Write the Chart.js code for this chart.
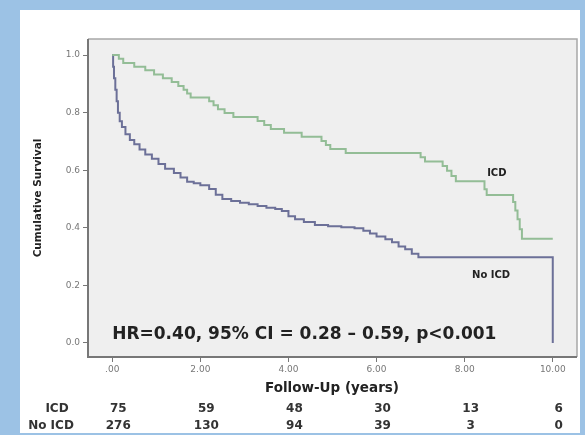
<!DOCTYPE html>
<html><head><meta charset="utf-8">
<script src="https://cdn.jsdelivr.net/npm/chart.js@4/dist/chart.umd.min.js"></script>
<style>
html,body{margin:0;padding:0;width:585px;height:435px;overflow:hidden;background:#9cc2e5;}
#panel{position:absolute;left:20px;top:10px;width:560px;height:423px;background:#ffffff;}
#wrap{position:absolute;left:0;top:0;width:585px;height:435px;}
</style></head><body>
<div id="panel"></div>
<div id="wrap"><canvas id="c" width="585" height="435"></canvas></div>
<script>
// ---- data ----
const icdTimes    = [0, 0.15, 0.25, 0.5, 0.75, 0.95, 1.15, 1.35, 1.5, 1.62, 1.7, 1.78, 2.2, 2.3, 2.4, 2.55, 2.75, 3.3, 3.45, 3.6, 3.9, 4.3, 4.75, 4.85, 4.95, 5.3, 7.0, 7.1, 7.5, 7.6, 7.7, 7.8, 8.45, 8.5, 9.1, 9.15, 9.2, 9.25, 9.3, 10.0];
const icdSurvival = [1.0, 0.987, 0.973, 0.96, 0.947, 0.933, 0.92, 0.907, 0.893, 0.88, 0.867, 0.853, 0.84, 0.826, 0.812, 0.799, 0.785, 0.771, 0.757, 0.743, 0.73, 0.716, 0.702, 0.688, 0.674, 0.66, 0.645, 0.63, 0.615, 0.598, 0.58, 0.562, 0.534, 0.514, 0.49, 0.46, 0.43, 0.395, 0.362, 0.362];
const noIcdTimes    = [0, 0.02, 0.04, 0.07, 0.1, 0.13, 0.17, 0.22, 0.3, 0.4, 0.5, 0.62, 0.75, 0.9, 1.05, 1.2, 1.4, 1.55, 1.7, 1.85, 2.0, 2.2, 2.35, 2.5, 2.7, 2.9, 3.1, 3.3, 3.5, 3.7, 3.85, 4.0, 4.15, 4.35, 4.6, 4.9, 5.2, 5.5, 5.7, 5.85, 6.0, 6.2, 6.35, 6.5, 6.65, 6.8, 6.95, 10.0];
const noIcdSurvival = [1.0, 0.96, 0.92, 0.88, 0.84, 0.80, 0.77, 0.75, 0.725, 0.705, 0.69, 0.672, 0.655, 0.64, 0.622, 0.605, 0.59, 0.575, 0.56, 0.555, 0.548, 0.535, 0.515, 0.5, 0.493, 0.487, 0.482, 0.476, 0.47, 0.465, 0.458, 0.44, 0.43, 0.42, 0.41, 0.405, 0.402, 0.398, 0.39, 0.38, 0.37, 0.36, 0.35, 0.335, 0.325, 0.31, 0.298, 0.0];
const seriesLabels = ['ICD', 'No ICD'];
const xTickValues = [0, 2, 4, 6, 8, 10];
const xTickLabels = ['.00', '2.00', '4.00', '6.00', '8.00', '10.00'];
const yTickValues = [0, 0.2, 0.4, 0.6, 0.8, 1.0];
const yTickLabels = ['0.0', '0.2', '0.4', '0.6', '0.8', '1.0'];
const riskTimes = [0, 2, 4, 6, 8, 10];
const riskICD   = [75, 59, 48, 30, 13, 6];
const riskNoICD = [276, 130, 94, 39, 3, 0];
const hrText = 'HR=0.40, 95% CI = 0.28 \u2013 0.59, p<0.001';
const xTitle = 'Follow-Up (years)';
const yTitle = 'Cumulative Survival';

const toPts = (ts, ss) => ts.map((t, i) => ({x: t, y: ss[i]}));
const FONT = '"DejaVu Sans", Verdana, sans-serif';

const decor = {
  id: 'decor',
  beforeDraw(chart) {
    const {ctx, chartArea: a} = chart;
    ctx.save();
    ctx.fillStyle = '#efefef';
    ctx.fillRect(a.left, a.top, a.right - a.left, a.bottom - a.top);
    ctx.restore();
  },
  afterDraw(chart) {
    const {ctx, chartArea: a, scales: {x, y}} = chart;
    ctx.save();
    // frame
    ctx.lineWidth = 1.5;
    ctx.strokeStyle = '#a8a8a8';
    ctx.beginPath();
    ctx.moveTo(a.left, a.top); ctx.lineTo(a.right, a.top); ctx.lineTo(a.right, a.bottom);
    ctx.stroke();
    ctx.lineWidth = 2;
    ctx.strokeStyle = '#777777';
    ctx.beginPath();
    ctx.moveTo(a.left, a.top); ctx.lineTo(a.left, a.bottom); ctx.lineTo(a.right, a.bottom);
    ctx.stroke();

    ctx.fillStyle = '#222222';
    ctx.textBaseline = 'middle';
    // curve labels
    ctx.font = 'bold 10px ' + FONT;
    ctx.textAlign = 'center';
    ctx.fillText(seriesLabels[0], x.getPixelForValue(8.73), y.getPixelForValue(0.59));
    ctx.fillText(seriesLabels[1], x.getPixelForValue(8.6), y.getPixelForValue(0.236));
    // HR text
    ctx.font = 'bold 17px ' + FONT;
    ctx.textAlign = 'left';
    ctx.fillText(hrText, x.getPixelForValue(0), y.getPixelForValue(0.028));
    // axis titles
    ctx.font = 'bold 13.5px ' + FONT;
    ctx.textAlign = 'center';
    ctx.fillText(xTitle, 332, 388);
    ctx.save();
    ctx.translate(38, 198);
    ctx.rotate(-Math.PI / 2);
    ctx.font = 'bold 10.5px ' + FONT;
    ctx.fillText(yTitle, 0, 0);
    ctx.restore();
    // risk table
    ctx.font = 'bold 12px ' + FONT;
    ctx.fillStyle = '#333333';
    ctx.textAlign = 'center';
    ctx.fillText(seriesLabels[0], 57, 409);
    ctx.fillText(seriesLabels[1], 51, 426);
    riskTimes.forEach((t, i) => {
      const px = x.getPixelForValue(t) + 6;
      ctx.fillText(String(riskICD[i]), px, 409);
      ctx.fillText(String(riskNoICD[i]), px, 426);
    });
    ctx.restore();
  }
};

new Chart(document.getElementById('c'), {
  type: 'line',
  data: {
    datasets: [
      {label: seriesLabels[0], data: toPts(icdTimes, icdSurvival), borderColor: '#93bd96', borderWidth: 2, stepped: 'before', pointRadius: 0, fill: false},
      {label: seriesLabels[1], data: toPts(noIcdTimes, noIcdSurvival), borderColor: '#6c7098', borderWidth: 2, stepped: 'before', pointRadius: 0, fill: false}
    ]
  },
  options: {
    responsive: false,
    devicePixelRatio: 1,
    animation: false,
    layout: {padding: {left: 0, right: 8, top: 39, bottom: 0}},
    plugins: {legend: {display: false}, tooltip: {enabled: false}},
    scales: {
      x: {
        type: 'linear', min: -0.55, max: 10.55,
        afterBuildTicks: s => { s.ticks = xTickValues.map(v => ({value: v})); },
        afterFit: s => { s.height = 78; },
        grid: {drawOnChartArea: false, tickLength: 5, color: '#777777', lineWidth: 1},
        border: {display: false},
        ticks: {padding: 2, color: '#777777', font: {family: FONT, size: 9}, maxRotation: 0, autoSkip: false,
          callback: (v, i) => xTickLabels[i]}
      },
      y: {
        type: 'linear', min: -0.049, max: 1.056,
        afterBuildTicks: s => { s.ticks = yTickValues.map(v => ({value: v})); },
        afterFit: s => { s.width = 88; },
        grid: {drawOnChartArea: false, tickLength: 5, color: '#777777', lineWidth: 1},
        border: {display: false},
        ticks: {padding: 3, color: '#777777', font: {family: FONT, size: 9}, autoSkip: false,
          callback: (v, i) => yTickLabels[i]}
      }
    }
  },
  plugins: [decor]
});
</script>
</body></html>
